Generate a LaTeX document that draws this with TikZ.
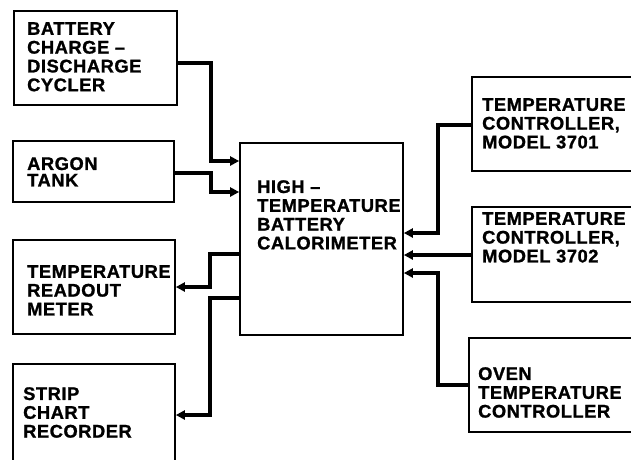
\documentclass[tikz,border=0pt]{standalone}
\usepackage{fontspec}
\setmainfont{Liberation Sans}[LetterSpace=3, BoldFeatures={FakeBold=1.2}]
\usetikzlibrary{arrows.meta}
\newcommand{\lblfont}{\fontsize{18.3}{18.8}\selectfont\bfseries}
\tikzset{
  box/.style={draw, line width=1.7pt, inner sep=0pt},
  lbl/.style={anchor=north west, inner sep=0pt, align=left, font=\lblfont},
  wire/.style={line width=3.6pt},
  arr/.style={wire, -{Triangle[length=9pt,width=9pt]}}
}
\begin{document}
\begin{tikzpicture}[x=1pt,y=-1pt]
\useasboundingbox (0,0) rectangle (631,459);
\clip (0,0) rectangle (631,459);
% boxes
\node[box, minimum width=163pt, minimum height=94pt] (bat) at (95.5,58) {};
\node[box, minimum width=161pt, minimum height=61pt] (arg) at (93.5,171.5) {};
\node[box, minimum width=162pt, minimum height=94pt] (rd) at (94,287) {};
\node[box, minimum width=162pt, minimum height=106pt] (st) at (94,417) {};
\node[box, minimum width=163pt, minimum height=192pt] (cal) at (321.5,239) {};
\node[box, minimum width=162pt, minimum height=94pt] (c1) at (553,124) {};
\node[box, minimum width=162pt, minimum height=95pt] (c2) at (553,254.5) {};
\node[box, minimum width=165pt, minimum height=94pt] (ov) at (551.5,385) {};
% labels
\node[lbl] (batt) at (27,22) {BATTERY\\CHARGE –\\DISCHARGE\\CYCLER};
\node[lbl, font=\fontsize{18.3}{16.5}\selectfont\bfseries] (argt) at (27,157) {ARGON\\TANK};
\node[lbl] (rdt) at (27,265) {TEMPERATURE\\READOUT\\METER};
\node[lbl] (stt) at (23,387) {STRIP\\CHART\\RECORDER};
\node[lbl] (calt) at (257,180) {HIGH –\\TEMPERATURE\\BATTERY\\CALORIMETER};
\node[lbl] (c1t) at (482,98) {TEMPERATURE\\CONTROLLER,\\MODEL 3701};
\node[lbl] (c2t) at (482,212) {TEMPERATURE\\CONTROLLER,\\MODEL 3702};
\node[lbl] (ovt) at (478,367) {OVEN\\TEMPERATURE\\CONTROLLER};
% connectors
\draw[arr] (bat.east |- 0,63) -| (211,161) -- (cal.west |- 0,161);
\draw[arr] (arg.east |- 0,173) -| (211,192) -- (cal.west |- 0,192);
\draw[arr] (cal.west |- 0,254) -| (210,287) -- (rd.east |- 0,287);
\draw[arr] (cal.west |- 0,298) -| (210,415) -- (st.east |- 0,415);
\draw[arr] (c1.west |- 0,125) -| (438,233) -- (cal.east |- 0,233);
\draw[arr] (c2.west |- 0,255) -- (cal.east |- 0,255);
\draw[arr] (ov.west |- 0,385) -| (438,273) -- (cal.east |- 0,273);
\end{tikzpicture}
\end{document}
